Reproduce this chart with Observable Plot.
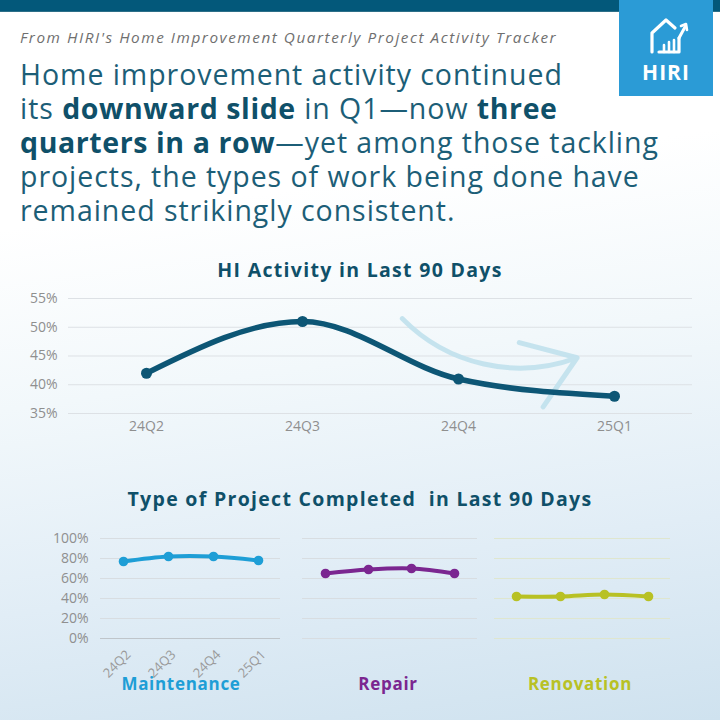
<!DOCTYPE html>
<html>
<head>
<meta charset="utf-8">
<script src="https://cdn.jsdelivr.net/npm/d3@7"></script>
<script src="https://cdn.jsdelivr.net/npm/@observablehq/plot@0.6"></script>
<style>
  html, body { margin: 0; padding: 0; }
  #page {
    position: relative; width: 720px; height: 720px; overflow: hidden;
    background: linear-gradient(172deg, #ffffff 0%, #ffffff 28%, #f2f8fb 50%, #e1edf6 75%, #cfe2ef 100%);
    font-family: "Open Sans", sans-serif;
  }
  .abs { position: absolute; }
  #topbar { left: 0; top: 0; width: 720px; height: 11px; background: #03587a; border-bottom: 1px solid #2d6f88; }
  #logo { left: 619px; top: 0; width: 94px; height: 96px; background: #2b9bd6; }
  #logo .name { position: absolute; left: 0; width: 94px; top: 58px; text-align: center; color: #fff; font-weight: 700; font-size: 21px; letter-spacing: 1px; font-family: "Open Sans", sans-serif; }
  #sub { left: 20px; top: 27px; font-style: italic; color: #6f6f6f; font-size: 15.3px; letter-spacing: 1.55px; white-space: nowrap; }
  #headline { left: 20px; top: 57px; width: 700px; color: #1c5e77; font-size: 28.5px; line-height: 34px; letter-spacing: 0.95px; white-space: nowrap; }
  #headline b { color: #0f5069; font-weight: 700; letter-spacing: 0.6px; }
  .ctitle { left: 0; width: 720px; text-align: center; color: #0f5069; font-weight: 700; font-size: 19.5px; letter-spacing: 1.3px; }
  .plab { font-weight: 700; font-size: 17px; letter-spacing: 0.7px; text-align: center; width: 200px; }
</style>
</head>
<body>
<div id="page">
  <div id="topbar" class="abs"></div>
  <div id="logo" class="abs">
    <svg width="94" height="60" style="position:absolute;left:0;top:0">
      <path d="M33 52 V33 L47 20 L56 28" fill="none" stroke="#fff" stroke-width="3.2" stroke-linejoin="round" stroke-linecap="round"/>
      <path d="M40 52 H60 V38" fill="none" stroke="#fff" stroke-width="3.2" stroke-linejoin="round" stroke-linecap="round"/>
      <path d="M45 52 V45 M50 52 V42 M55 52 V40" fill="none" stroke="#fff" stroke-width="2.6" stroke-linecap="round"/>
      <path d="M60 38 L66 27" fill="none" stroke="#fff" stroke-width="3" stroke-linecap="round"/>
      <path d="M62 26 L67 24 L68 30" fill="none" stroke="#fff" stroke-width="2.6" stroke-linecap="round" stroke-linejoin="round"/>
    </svg>
    <div class="name">HIRI</div>
  </div>
  <div id="sub" class="abs">From HIRI's Home Improvement Quarterly Project Activity Tracker</div>
  <div id="headline" class="abs">Home improvement activity continued<br>its <b>downward slide</b> in Q1—now <b>three<br>quarters in a row</b>—yet among those tackling<br>projects, the types of work being done have<br>remained strikingly consistent.</div>

  <div class="abs ctitle" style="top:256px">HI Activity in Last 90 Days</div>
  <div id="chart1" class="abs" style="left:0;top:285px"></div>

  <div class="abs ctitle" style="top:485px">Type of Project Completed&nbsp; in Last 90 Days</div>
  <div id="p1" class="abs" style="left:0;top:525px"></div>
  <div id="p2" class="abs" style="left:297px;top:525px"></div>
  <div id="p3" class="abs" style="left:489px;top:525px"></div>
  <div id="lab1" class="abs plab" style="left:81px;top:672px"></div>
  <div id="lab2" class="abs plab" style="left:288px;top:672px"></div>
  <div id="lab3" class="abs plab" style="left:480px;top:672px"></div>
</div>
<script>
// ---- data ----
const quarters = ["24Q2", "24Q3", "24Q4", "25Q1"];
const hiActivity = [42, 51, 41, 38];           // % HI activity in last 90 days
const activityTicks = [35, 40, 45, 50, 55];
// annotation arrow (x in quarter index units, y in %)
const arrowFrom = [1.64, 51.5];
const arrowTo = [2.76, 44.7];

const projectTypes = ["Maintenance", "Repair", "Renovation"];
const maintenance = [77, 82, 82, 78];
const repair = [65, 69, 70, 65];
const renovation = [42, 42, 44, 42];
const typeTicks = [0, 20, 40, 60, 80, 100];
const typeColors = ["#1e9ed6", "#7b2690", "#b8c124"];
const gridColors = ["#d8dde1", "#d8dde1", "#dfe6cf"];

// ---- chart 1 ----
const actData = quarters.map((q, i) => ({i, q, v: hiActivity[i]}));
const chart1 = Plot.plot({
  width: 720, height: 155,
  marginLeft: 68, marginRight: 28, marginTop: 13, marginBottom: 27,
  style: {background: "transparent", fontFamily: "Open Sans", fontSize: "14px", color: "#8f8f8f", overflow: "visible"},
  x: {type: "linear", domain: [-0.5, 3.5]},
  y: {domain: [35, 55]},
  marks: [
    Plot.gridY(activityTicks, {stroke: "#dde1e5", strokeOpacity: 1, strokeWidth: 1}),
    Plot.axisY({ticks: activityTicks, tickFormat: d => d + "%", tickSize: 0, tickPadding: 11, label: null, fill: "#8f8f8f"}),
    Plot.axisX({ticks: [0, 1, 2, 3], tickFormat: i => quarters[i], tickSize: 0, tickPadding: 8, label: null, fill: "#8f8f8f"}),
    Plot.arrow([{x1: arrowFrom[0], y1: arrowFrom[1], x2: arrowTo[0], y2: arrowTo[1]}],
      {x1: "x1", y1: "y1", x2: "x2", y2: "y2", bend: -33, stroke: "#c2e1ed", strokeWidth: 5, headLength: 24, headAngle: 70, strokeOpacity: 0.95}),
    Plot.line(actData, {x: "i", y: "v", curve: "monotone-x", stroke: "#0d5675", strokeWidth: 5.5}),
    Plot.dot(actData, {x: "i", y: "v", r: 5.5, fill: "#0d5675"})
  ]
});
document.getElementById("chart1").append(chart1);

// ---- chart 2 panels ----
const series = [maintenance, repair, renovation];
const widths = [180, 175, 176];
series.forEach((vals, k) => {
  const data = quarters.map((q, i) => ({q, v: vals[i]}));
  const first = k === 0;
  const p = Plot.plot({
    width: first ? 285 : widths[k] + 10,
    height: 173,
    marginLeft: first ? 100 : 5, marginRight: 5, marginTop: 13, marginBottom: 60,
    style: {background: "transparent", fontFamily: "Open Sans", fontSize: "14px", color: "#8f8f8f", overflow: "visible"},
    x: {type: "point", domain: quarters, padding: 0.5, axis: first ? undefined : null},
    y: {domain: [0, 100], axis: first ? undefined : null},
    marks: [
      Plot.gridY(typeTicks.filter(t => t > 0), {stroke: gridColors[k], strokeOpacity: 1}),
      Plot.ruleY([0], {stroke: first ? "#bfc5ca" : gridColors[k], strokeWidth: 1}),
      first ? Plot.axisY({ticks: typeTicks, tickFormat: d => d + "%", tickSize: 0, tickPadding: 12, label: null, fill: "#8f8f8f"}) : null,
      first ? Plot.axisX({tickRotate: -45, tickSize: 0, tickPadding: 14, dx: 5, fontSize: 13, label: null, fill: "#9a9a9a"}) : null,
      Plot.line(data, {x: "q", y: "v", curve: "catmull-rom", stroke: typeColors[k], strokeWidth: 4}),
      Plot.dot(data, {x: "q", y: "v", r: 4.8, fill: typeColors[k]})
    ]
  });
  document.getElementById("p" + (k + 1)).append(p);
  const lab = document.getElementById("lab" + (k + 1));
  lab.textContent = projectTypes[k];
  lab.style.color = typeColors[k];
});
</script>
</body>
</html>
